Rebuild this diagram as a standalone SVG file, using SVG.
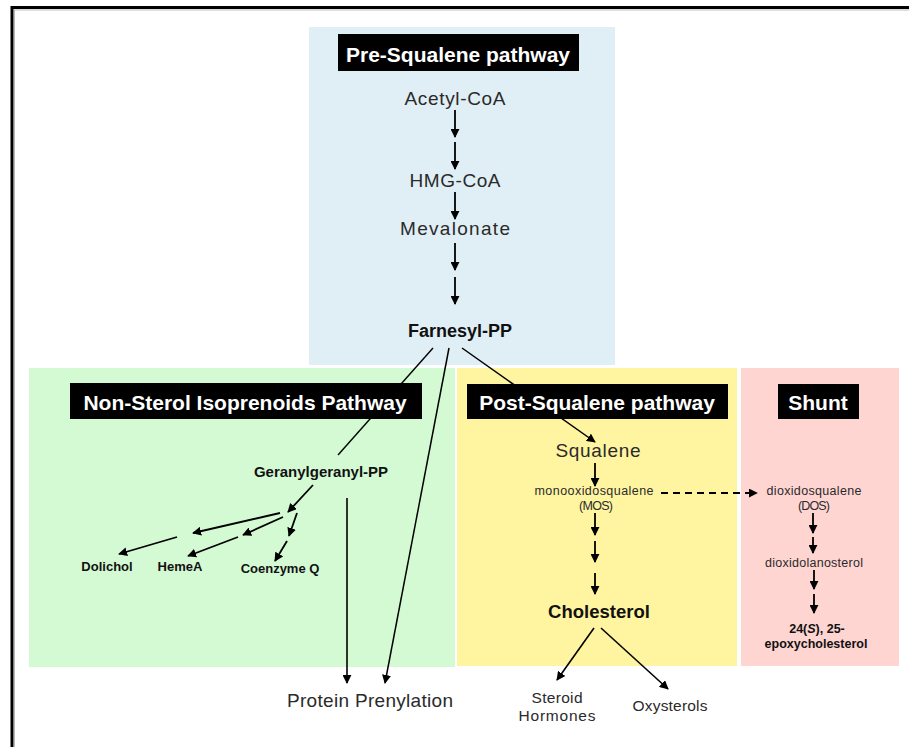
<svg xmlns="http://www.w3.org/2000/svg" width="909" height="747" viewBox="0 0 909 747">
<defs>
<marker id="ah" viewBox="0 0 10 10" refX="9" refY="5" markerWidth="9" markerHeight="9" markerUnits="userSpaceOnUse" orient="auto">
<path d="M0,0 L10,5 L0,10 z" fill="#000"/>
</marker>
<style>
.title{fill:#000}
.tt{font-family:"Liberation Sans",Arial,sans-serif;font-weight:bold;font-size:21px;fill:#fff;text-anchor:middle}
.lab{font-family:"Liberation Sans",Arial,sans-serif;fill:#2a2a2a;text-anchor:middle}
.bold{font-family:"Liberation Sans",Arial,sans-serif;font-weight:bold;fill:#111;text-anchor:middle}
.ar{stroke:#000;stroke-width:1.8;fill:none;marker-end:url(#ah)}
.ln{stroke:#000;stroke-width:1.4;fill:none}
</style>
</defs>
<rect width="909" height="747" fill="#fff"/>
<rect x="12" y="7.5" width="920" height="760" fill="none" stroke="#000" stroke-width="3"/>
<rect x="14.5" y="10" width="920" height="760" fill="none" stroke="#bbb" stroke-width="1"/>

<g id="panels">
<rect x="309" y="27" width="306" height="338" fill="#E0EFF5"/>
<rect x="29" y="368" width="426" height="299" fill="#D4FAD4"/>
<rect x="457" y="368" width="280" height="298" fill="#FFF5A0"/>
<rect x="741" y="368" width="158" height="298" fill="#FFD5D2"/>
</g>

<g id="connectors">
<line class="ar" x1="455" y1="110" x2="455" y2="137"/>
<line class="ar" x1="455" y1="142" x2="455" y2="169"/>
<line class="ar" x1="455" y1="192" x2="455" y2="219"/>
<line class="ar" x1="455" y1="243" x2="455" y2="270"/>
<line class="ar" x1="455" y1="277" x2="455" y2="304"/>
<line class="ln" x1="433" y1="348" x2="338" y2="455"/>
<line class="ar" x1="449" y1="348" x2="385" y2="683" style="stroke-width:1.5"/>
<line class="ar" x1="462" y1="348" x2="595" y2="442" style="stroke-width:1.5"/>
<line class="ar" x1="347" y1="498" x2="347" y2="683" style="stroke-width:1.6"/>
<line class="ar" x1="313" y1="485" x2="288" y2="512"/>
<line class="ar" x1="280" y1="513" x2="193" y2="533"/>
<line class="ar" x1="283" y1="517" x2="243" y2="535"/>
<line class="ar" x1="297" y1="513" x2="289" y2="536"/>
<line class="ar" x1="177" y1="537" x2="119" y2="554"/>
<line class="ar" x1="238" y1="537" x2="188" y2="556"/>
<line class="ar" x1="287" y1="541" x2="275" y2="561"/>
<line class="ar" x1="595" y1="463" x2="595" y2="486"/>
<line class="ar" x1="595" y1="513" x2="595" y2="535"/>
<line class="ar" x1="595" y1="541" x2="595" y2="562"/>
<line class="ar" x1="595" y1="573" x2="595" y2="594"/>
<line class="ar" x1="661" y1="493" x2="757" y2="493" style="stroke-dasharray:7 5"/>
<line class="ar" x1="813" y1="513" x2="813" y2="533"/>
<line class="ar" x1="813" y1="537" x2="813" y2="553"/>
<line class="ar" x1="814" y1="570" x2="814" y2="589"/>
<line class="ar" x1="814" y1="594" x2="814" y2="613"/>
<line class="ar" x1="594" y1="628" x2="557" y2="680" style="stroke-width:1.6"/>
<line class="ar" x1="601" y1="628" x2="668" y2="689" style="stroke-width:1.6"/>
</g>

<g id="title-pre"><rect class="title" x="338" y="34" width="241" height="37"/><text class="tt" x="458" y="62">Pre-Squalene pathway</text></g>
<g id="title-nonsterol"><rect class="title" x="70" y="383" width="352" height="36"/><text class="tt" x="245" y="410">Non-Sterol Isoprenoids Pathway</text></g>
<g id="title-post"><rect class="title" x="467" y="384" width="261" height="35"/><text class="tt" x="597" y="410">Post-Squalene pathway</text></g>
<g id="title-shunt"><rect class="title" x="778" y="384" width="81" height="35"/><text class="tt" x="818" y="410">Shunt</text></g>

<g id="acetylcoa"><text class="lab" x="455" y="105" font-size="19" textLength="101">Acetyl-CoA</text></g>
<g id="hmgcoa"><text class="lab" x="455" y="187" font-size="19" textLength="91">HMG-CoA</text></g>
<g id="mevalonate"><text class="lab" x="455" y="235" font-size="19" textLength="110">Mevalonate</text></g>
<g id="farnesyl"><text class="bold" x="460" y="337" font-size="18">Farnesyl-PP</text></g>
<g id="geranylgeranyl"><text class="bold" x="321" y="477" font-size="15">Geranylgeranyl-PP</text></g>
<g id="dolichol"><text class="bold" x="107" y="571" font-size="13">Dolichol</text></g>
<g id="hemea"><text class="bold" x="180" y="571" font-size="13">HemeA</text></g>
<g id="coenzymeq"><text class="bold" x="280" y="573" font-size="13">Coenzyme Q</text></g>
<g id="protein-prenylation"><text class="lab" x="370" y="707" font-size="19" textLength="166">Protein Prenylation</text></g>
<g id="squalene"><text class="lab" x="598" y="457" font-size="19" textLength="85">Squalene</text></g>
<g id="mos"><text class="lab" x="594" y="495" font-size="12.5" textLength="119">monooxidosqualene</text><text class="lab" x="596" y="510" font-size="12.5" textLength="34">(MOS)</text></g>
<g id="cholesterol"><text class="bold" x="599" y="618" font-size="18.5">Cholesterol</text></g>
<g id="steroid-hormones"><text class="lab" x="557" y="703" font-size="15.5" textLength="51">Steroid</text><text class="lab" x="557" y="721" font-size="15.5" textLength="77">Hormones</text></g>
<g id="oxysterols"><text class="lab" x="670" y="711" font-size="15.5" textLength="75">Oxysterols</text></g>
<g id="dos"><text class="lab" x="814" y="495" font-size="12.5" textLength="95">dioxidosqualene</text><text class="lab" x="814" y="510" font-size="12.5" textLength="32">(DOS)</text></g>
<g id="dioxidolanosterol"><text class="lab" x="814" y="567" font-size="12.5" textLength="98">dioxidolanosterol</text></g>
<g id="epoxycholesterol"><text class="bold" x="817" y="633" font-size="12.5">24(<tspan font-style="italic">S</tspan>), 25-</text><text class="bold" x="816" y="648" font-size="12.5">epoxycholesterol</text></g>
</svg>
